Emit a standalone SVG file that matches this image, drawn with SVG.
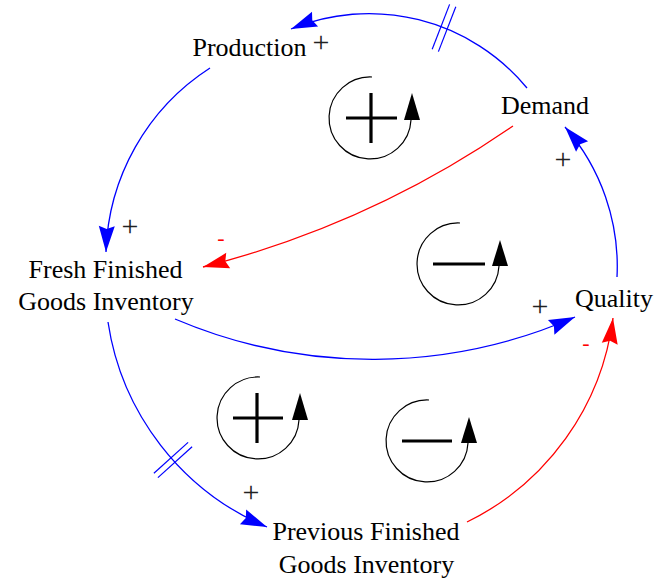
<svg xmlns="http://www.w3.org/2000/svg" width="665" height="581" viewBox="0 0 665 581">
<style>
.lbl{font-family:"Liberation Serif","Times New Roman",serif;font-size:26px;fill:#000;text-anchor:middle}
.pol{font-family:"Liberation Serif","Times New Roman",serif;font-size:30px;fill:#222;text-anchor:middle}
.neg{font-family:"Liberation Serif","Times New Roman",serif;font-size:22px;fill:#f00;text-anchor:middle}
.b{fill:none;stroke:#00f;stroke-width:1.3}
.r{fill:none;stroke:#f00;stroke-width:1.3}
.dl{stroke:#00f;stroke-width:1.2}
.loop{fill:none;stroke:#000;stroke-width:1.2}
.sym{stroke:#000;stroke-width:3.2}
</style>
<defs>
<marker id="ab" markerUnits="userSpaceOnUse" orient="auto" refX="0" refY="0" markerWidth="30" markerHeight="20" overflow="visible">
<path d="M0,0 L-26,-8 L-23,0 L-26,8 Z" fill="#00f"/>
</marker>
<marker id="ar" markerUnits="userSpaceOnUse" orient="auto" refX="0" refY="0" markerWidth="30" markerHeight="20" overflow="visible">
<path d="M0,0 L-26,-8 L-23,0 L-26,8 Z" fill="#f00"/>
</marker>
</defs>

<g id="connectors">
<path id="demand-production" class="b" d="M527,88 A205,205 0 0,0 291,29" marker-end="url(#ab)"/>
<line class="dl" x1="449.6" y1="4.4" x2="432.2" y2="49.2"/>
<line class="dl" x1="455.8" y1="6.8" x2="438.4" y2="51.6"/>
<path id="production-fresh" class="b" d="M210,68 A227,227 0 0,0 106,252" marker-end="url(#ab)"/>
<path id="demand-fresh" class="r" d="M513,126 A962,962 0 0,1 203,267" marker-end="url(#ar)"/>
<path id="quality-demand" class="b" d="M617,277 A212,212 0 0,0 565,127" marker-end="url(#ab)"/>
<path id="fresh-quality" class="b" d="M175,319 A505,505 0 0,0 575,317" marker-end="url(#ab)"/>
<path id="fresh-previous" class="b" d="M108,322 A265,265 0 0,0 267,527" marker-end="url(#ab)"/>
<line class="dl" x1="153.9" y1="473.2" x2="188.1" y2="442.4"/>
<line class="dl" x1="157.9" y1="477.6" x2="192.1" y2="446.8"/>
<path id="previous-quality" class="r" d="M467,522 A264,264 0 0,0 613,318" marker-end="url(#ar)"/>
<text class="pol" x="321" y="52">+</text>
<text class="pol" x="130" y="236">+</text>
<text class="neg" x="221" y="245">-</text>
<text class="pol" x="563" y="169">+</text>
<text class="pol" x="540" y="316">+</text>
<text class="neg" x="586" y="350">-</text>
<text class="pol" x="251" y="502">+</text>
</g>

<g id="loops">
<g id="loop-r1">
<path class="loop" d="M372,77 A41,41 0 1,0 411,120"/>
<polygon points="412,93 404,120 420,120" fill="#000"/>
<line class="sym" x1="346" y1="118" x2="397" y2="118"/>
<line class="sym" x1="371" y1="93" x2="371" y2="143"/>
</g>
<g id="loop-b1">
<path class="loop" d="M460,223 A41,41 0 1,0 499,266"/>
<polygon points="500,240 492,266 508,266" fill="#000"/>
<line class="sym" x1="433" y1="264" x2="485" y2="264"/>
</g>
<g id="loop-r2">
<path class="loop" d="M260,377 A41,41 0 1,0 299,420"/>
<polygon points="300,393 292,420 308,420" fill="#000"/>
<line class="sym" x1="233" y1="418" x2="283" y2="418"/>
<line class="sym" x1="257" y1="393" x2="257" y2="443"/>
</g>
<g id="loop-b2">
<path class="loop" d="M429,400 A41,41 0 1,0 468,443"/>
<polygon points="469,417 461,443 477,443" fill="#000"/>
<line class="sym" x1="402" y1="441" x2="452" y2="441"/>
</g>
</g>

<g id="production"><text class="lbl" x="249.5" y="56">Production</text></g>
<g id="demand"><text class="lbl" x="545" y="114">Demand</text></g>
<g id="fresh"><text class="lbl" x="105.5" y="278">Fresh Finished</text><text class="lbl" x="106" y="310">Goods Inventory</text></g>
<g id="quality"><text class="lbl" x="614" y="307">Quality</text></g>
<g id="previous"><text class="lbl" x="366" y="540">Previous Finished</text><text class="lbl" x="366.5" y="573">Goods Inventory</text></g>
</svg>
